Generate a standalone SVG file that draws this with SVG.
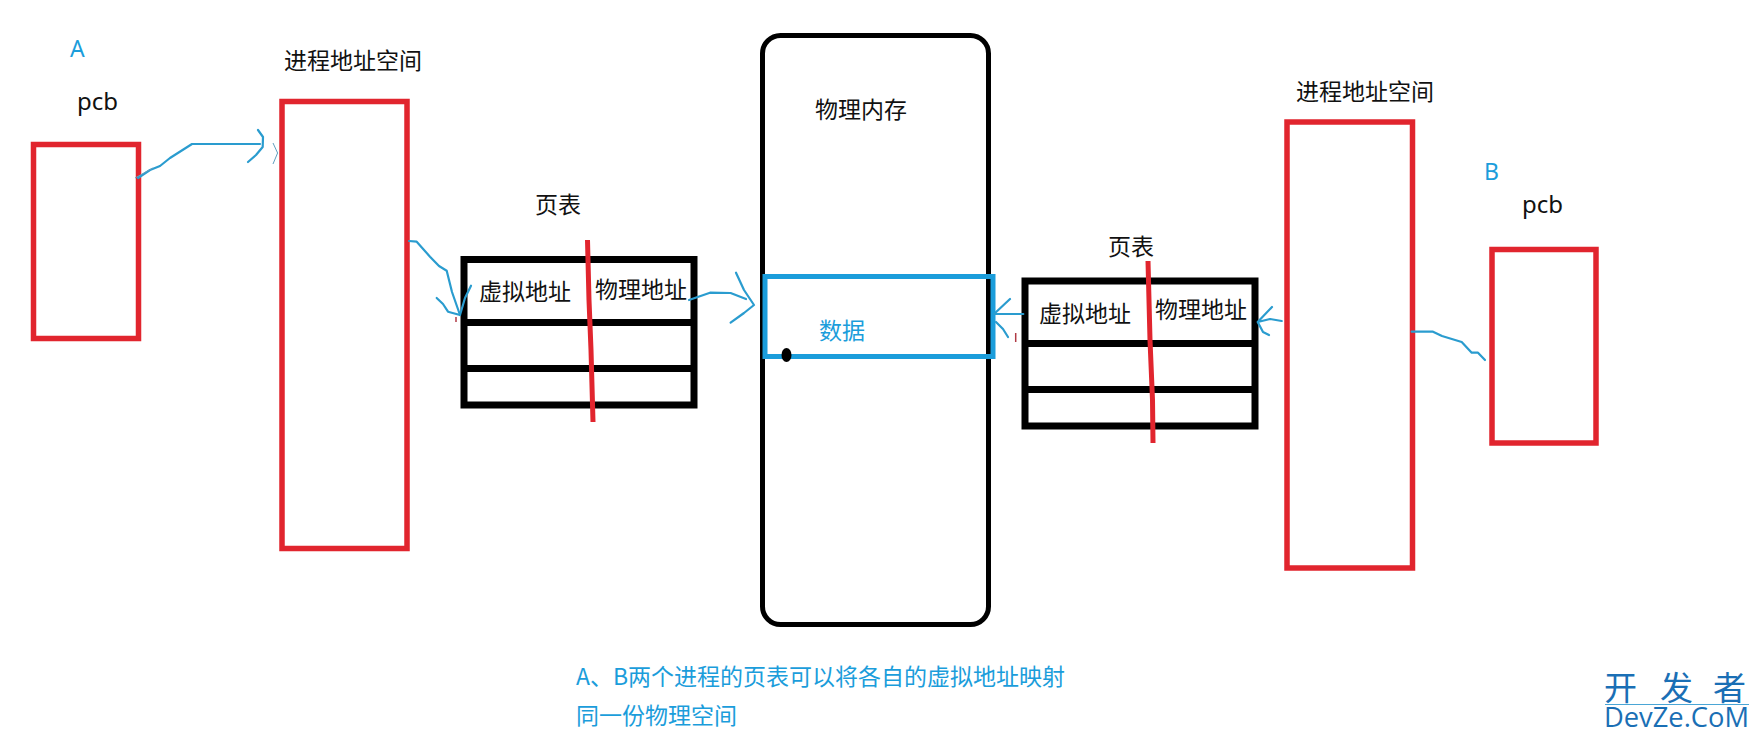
<svg xmlns="http://www.w3.org/2000/svg" width="1760" height="739" viewBox="0 0 1760 739">
<style>
text{font-family:"Noto Sans CJK SC","Noto Sans",sans-serif;font-size:23px;fill:#111}
.lat{font-family:"Noto Sans","Noto Sans CJK SC",sans-serif}
.pc{font-size:24px}
.b{fill:#1b9ddb}
.red{fill:none;stroke:#e1252e;stroke-width:5.5}
.blk{fill:none;stroke:#000;stroke-width:7}
.div{fill:none;stroke:#e1252e;stroke-width:5;stroke-linecap:butt}
.c{fill:none;stroke:#2a9ccf;stroke-width:2.2;stroke-linecap:round;stroke-linejoin:round}
.t{fill:none;stroke:#5f9fc0;stroke-width:1}
.tick{fill:none;stroke:#b03a44;stroke-width:1.5}
.wm{fill:#1a6fb5}
.wc{font-size:33px}
</style>
<rect width="1760" height="739" fill="#fff"/>
<g id="label-a"><text class="lat b" x="70" y="57">A</text></g>
<g id="pcb-a"><text class="lat pc" x="77" y="110">pcb</text><rect class="red" x="33.500" y="144.500" width="105" height="194"/></g>
<g id="addr-a"><text x="284" y="69">进程地址空间</text><rect class="red" x="282" y="101.500" width="125" height="447"/></g>
<g id="pagetable-a">
<text x="535" y="213">页表</text>
<path class="blk" d="M464 259.500H694V405H464Z"/>
<path class="blk" d="M464 322.500H694M464 368.500H694"/>
<text x="479" y="300">虚拟地址</text>
<text x="595" y="298">物理地址</text>
<path class="div" d="M587.500 240L589 300L591 350L593 422"/>
</g>
<g id="memory">
<rect x="762.500" y="35.500" width="226" height="589" rx="18" fill="none" stroke="#000" stroke-width="5"/>
<text x="815" y="118">物理内存</text>
<rect x="765" y="276.500" width="228" height="80" fill="none" stroke="#1b9ddb" stroke-width="5"/>
<ellipse cx="786.500" cy="355" rx="5" ry="7" fill="#000"/>
<text class="b" x="819" y="339">数据</text>
</g>
<g id="pagetable-b">
<text x="1108" y="255">页表</text>
<path class="blk" d="M1025 281H1255V426H1025Z"/>
<path class="blk" d="M1025 343.500H1255M1025 389.500H1255"/>
<text x="1039" y="322">虚拟地址</text>
<text x="1155" y="318">物理地址</text>
<path class="div" d="M1148 261L1150 340L1152.500 400L1153 443"/>
</g>
<g id="addr-b"><text x="1296" y="100">进程地址空间</text><rect class="red" x="1287" y="122" width="125.500" height="446"/></g>
<g id="label-b"><text class="lat b" x="1484" y="180">B</text></g>
<g id="pcb-b"><text class="lat pc" x="1522" y="213">pcb</text><rect class="red" x="1492" y="249.500" width="104" height="193.500"/></g>
<g id="connectors">
<path class="c" d="M138 178L150 170L160 166L170 158L192 144H260"/>
<path class="c" d="M258 130L263 137L262.700 147L256 155L248 162"/>
<path class="t" d="M135 178L153 168M273 143L277.600 153L273 164"/>
<path class="c" d="M409 241L416.700 241.700L430 256.700L439 266L446.700 270.700L452 292L460 315"/>
<path class="c" d="M471 285.700L465 298L460 315L448 311.700L443 304L436.700 298"/>
<path class="tick" d="M456 317V322"/>
<path class="c" d="M689 300L710 292.700L730.600 293L746 299"/>
<path class="c" d="M736 272.700L744 290L754 305L744 313L730.600 322.700"/>
<path class="c" d="M1023.300 314H994L1010 299M996 322L1003 329L1008 337"/>
<path class="tick" d="M1015.700 333V342"/>
<path class="c" d="M1281.700 321L1270 319L1257.700 322L1272 307M1257.700 322L1263 332L1269 335"/>
<path class="c" d="M1411.700 331.700L1433 331.700L1442 336L1461.700 342L1471.700 352.700L1478 352.700L1485 360"/>
</g>
<g id="caption">
<text class="b" x="576" y="685">A、B两个进程的页表可以将各自的虚拟地址映射</text>
<text class="b" x="576" y="724">同一份物理空间</text>
</g>
<g id="watermark">
<text class="wm wc" x="1604" y="700">开</text>
<text class="wm wc" x="1660" y="700">发</text>
<text class="wm wc" x="1713" y="700">者</text>
<path d="M1605 704.500H1749" stroke="#4aa6d6" stroke-width="1"/>
<text class="wm" x="1604" y="727" textLength="145" lengthAdjust="spacingAndGlyphs" style="font-size:28px;font-family:'Open Sans',sans-serif">DevZe.CoM</text>
</g>
</svg>
